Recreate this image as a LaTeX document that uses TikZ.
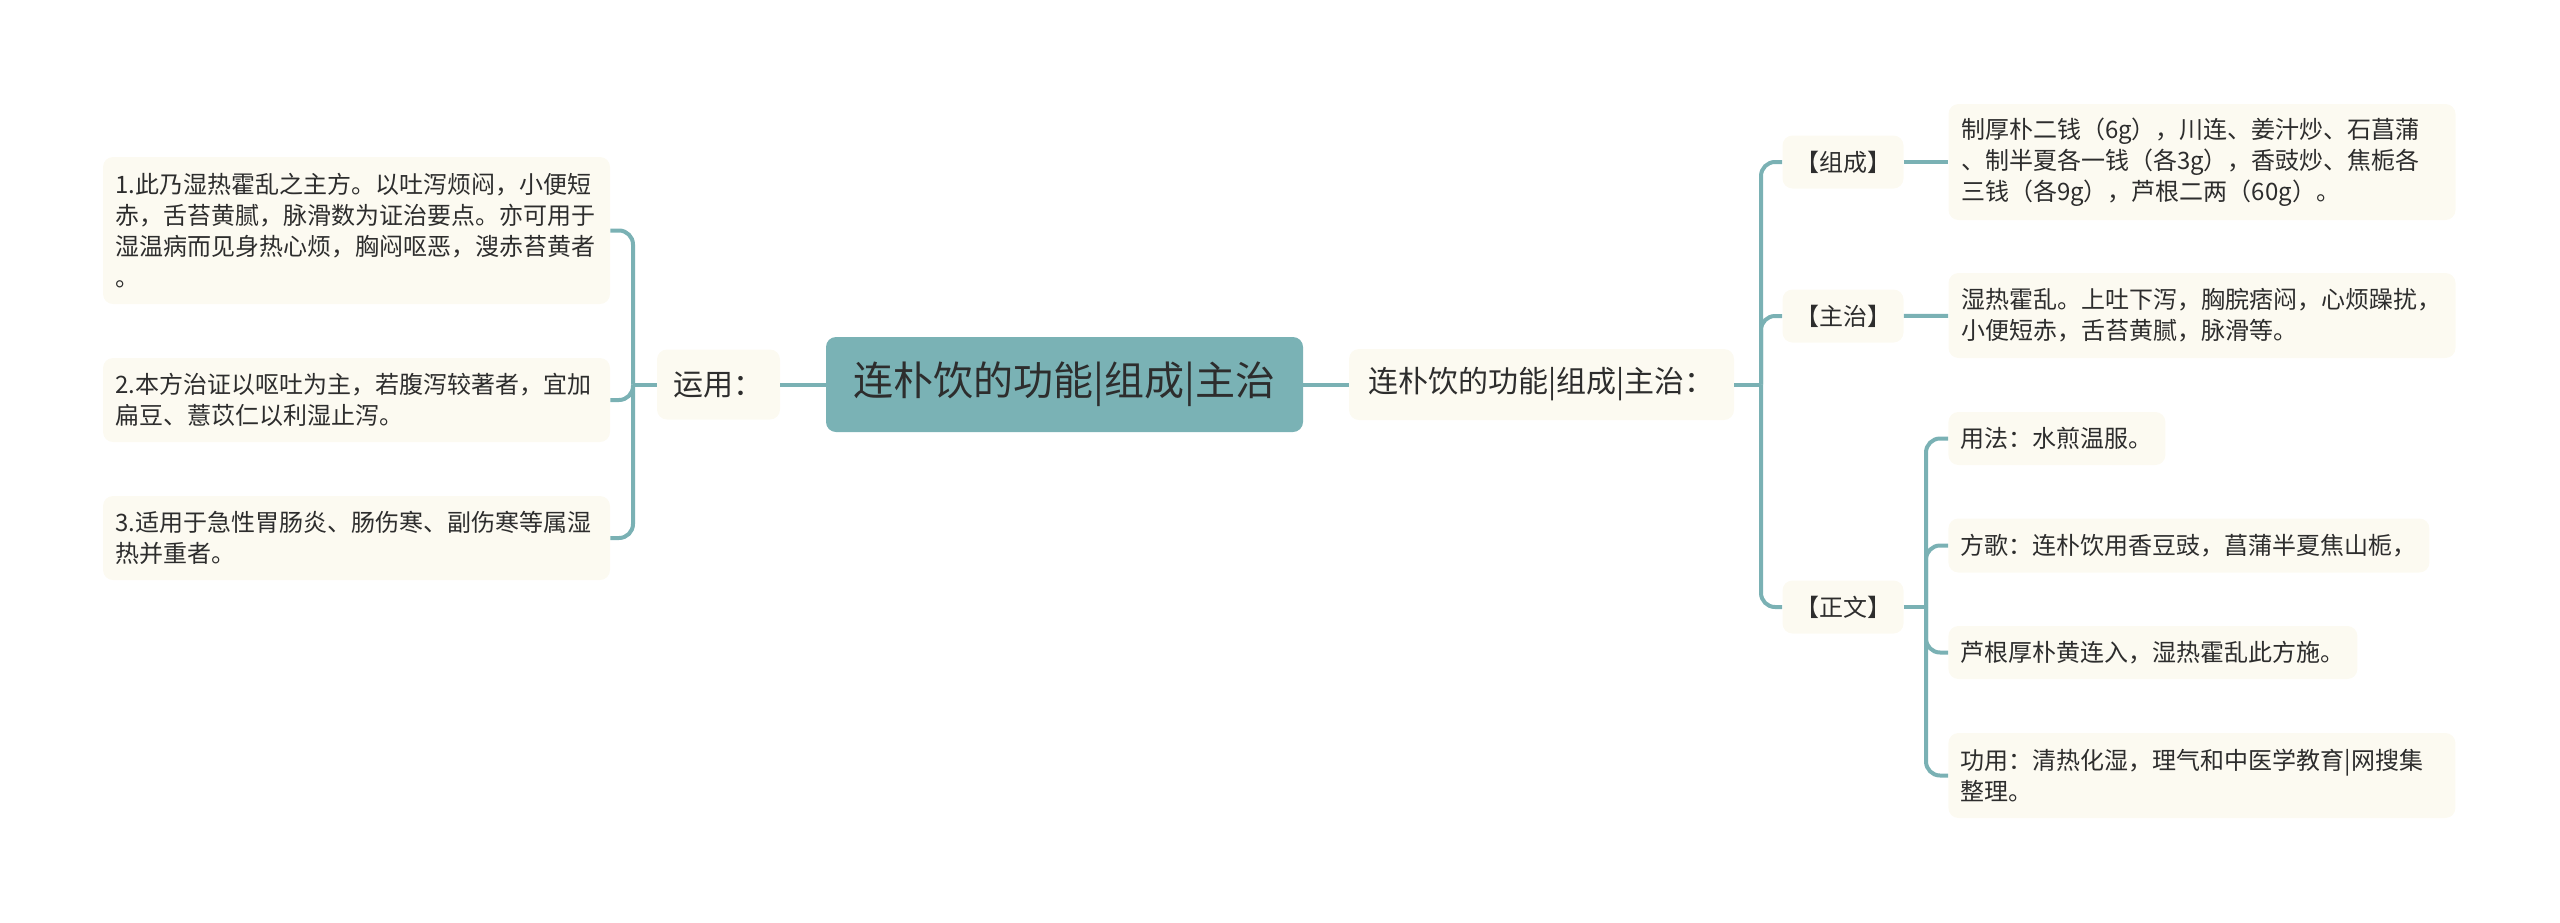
\documentclass[tikz,border=0pt]{standalone}
\usepackage{fontspec}
\setmainfont{Noto Sans CJK SC}
\definecolor{mapline}{RGB}{122,177,180}
\definecolor{maproot}{RGB}{122,178,181}
\definecolor{mapleaf}{RGB}{252,250,241}
\definecolor{maptext}{RGB}{45,45,45}
\begin{document}
\begin{tikzpicture}[x=0.5pt, y=-0.5pt,
        leaf/.style={fill=mapleaf, rounded corners=5pt, inner xsep=6.25pt, inner ysep=0pt,
                text=maptext, font={\fontsize{12pt}{15.5pt}\selectfont}},
        topic/.style={fill=mapleaf, rounded corners=5pt, inner sep=0pt,
                text=maptext, font={\fontsize{15pt}{18pt}\selectfont}},
        link/.style={mapline, line width=2pt},
        elbow/.style={mapline, line width=2pt, rounded corners=7pt}]
        \useasboundingbox (0, 0) rectangle (2560, 922);
        \node [fill=maproot, rounded corners=5pt, inner sep=0pt, minimum width=238.5pt, minimum height=47.5pt,
                text=maptext, font={\fontsize{20pt}{24pt}\selectfont}] at (1064.5, 384.5) (root) {连朴饮的功能|组成|主治};
        \node [topic, minimum width=61.5pt, minimum height=35pt] at (718.5, 384.5) (yy) {运用：};
        \node [topic, minimum width=192.5pt, minimum height=35.5pt] at (1541.5, 384.5) (gn) {连朴饮的功能|组成|主治：};
        \node [leaf, text width=241pt, align=left, minimum height=73.5pt] at (356.5, 230.5) (U1) {1.此乃湿热霍乱之主方。以吐泻烦闷，小便短\\赤，舌苔黄腻，脉滑数为证治要点。亦可用于\\湿温病而见身热心烦，胸闷呕恶，溲赤苔黄者\\。};
        \node [leaf, text width=241pt, align=left, minimum height=42pt] at (356.5, 400) (U2) {2.本方治证以呕吐为主，若腹泻较著者，宜加\\扁豆、薏苡仁以利湿止泻。};
        \node [leaf, text width=241pt, align=left, minimum height=42pt] at (356.5, 538) (U3) {3.适用于急性胃肠炎、肠伤寒、副伤寒等属湿\\热并重者。};
        \node [leaf, minimum width=60pt, minimum height=26.5pt] at (1843, 162) (K1) {【组成】};
        \node [leaf, minimum width=60pt, minimum height=26.5pt] at (1843, 316) (K2) {【主治】};
        \node [leaf, minimum width=60pt, minimum height=26.5pt] at (1843, 607) (K3) {【正文】};
        \node [leaf, text width=241pt, align=left, minimum height=58pt] at (2202, 162) (Z1) {制厚朴二钱（6g），川连、姜汁炒、石菖蒲\\、制半夏各一钱（各3g），香豉炒、焦栀各\\三钱（各9g），芦根二两（60g）。};
        \node [leaf, text width=241pt, align=left, minimum height=42.5pt] at (2202, 315.5) (Z2) {湿热霍乱。上吐下泻，胸脘痞闷，心烦躁扰，\\小便短赤，舌苔黄腻，脉滑等。};
        \node [leaf, anchor=west, minimum height=26.5pt] at (1948, 438.5) (W1) {用法：水煎温服。};
        \node [leaf, anchor=west, minimum height=27pt] at (1948, 545.5) (W2) {方歌：连朴饮用香豆豉，菖蒲半夏焦山栀，};
        \node [leaf, anchor=west, minimum height=26.5pt] at (1948, 652.5) (W3) {芦根厚朴黄连入，湿热霍乱此方施。};
        \node [leaf, anchor=west, text width=241pt, align=left, minimum height=42.5pt] at (1948, 775.5) (W4) {功用：清热化湿，理气和中医学教育|网搜集\\整理。};
        \coordinate (jl) at (633, 384.5);
        \coordinate (jr) at (1761, 384.5);
        \coordinate (jz) at (1926, 607);
        \draw [link] (root) -- (yy);
        \draw [link] (root) -- (gn);
        \draw [link] (yy) -- (jl);
        \draw [elbow] (jl) |- (U1);
        \draw [elbow] (jl) |- (U2);
        \draw [elbow] (jl) |- (U3);
        \draw [link] (gn) -- (jr);
        \draw [elbow] (jr) |- (K1);
        \draw [elbow] (jr) |- (K2);
        \draw [elbow] (jr) |- (K3);
        \draw [link] (K1) -- (Z1);
        \draw [link] (K2) -- (Z2);
        \draw [link] (K3) -- (jz);
        \draw [elbow] (jz) |- (W1);
        \draw [elbow] (jz) |- (W2);
        \draw [elbow] (jz) |- (W3);
        \draw [elbow] (jz) |- (W4);
\end{tikzpicture}
\end{document}
